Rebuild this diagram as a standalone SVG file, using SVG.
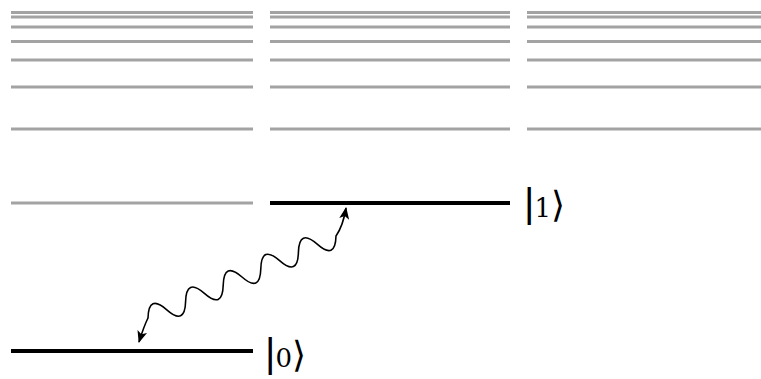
<svg xmlns="http://www.w3.org/2000/svg" width="761" height="379" viewBox="0 0 761 379">
<defs>
<style>
.lvl{stroke:#a3a3a3;stroke-width:3;fill:none}
.state{stroke:#000;stroke-width:4;fill:none}
.wave{stroke:#000;stroke-width:1.6;fill:none}
.lbl{font-family:"DejaVu Sans",sans-serif;fill:#000}
.br{font-family:"Liberation Sans",sans-serif;font-size:40px}
.dg{font-family:"DejaVu Serif",serif;font-size:26px}
.ang{font-family:"DejaVu Sans",sans-serif;font-size:36px;font-weight:200}
</style>
<marker id="ah" viewBox="0 0 12 10" refX="11" refY="5" markerWidth="13" markerHeight="10" markerUnits="userSpaceOnUse" orient="auto-start-reverse">
<path d="M0,0 L12,5 L0,10 L3,5 Z" fill="#000"/>
</marker>
</defs>
<rect width="761" height="379" fill="#fff"/>
<g id="levels-col1">
<path class="lvl" d="M11,12.5H253M11,17H253M11,27H253M11,41.5H253M11,60H253M11,87H253M11,129H253M11,203H253"/>
</g>
<g id="levels-col2">
<path class="lvl" d="M270,12.5H510M270,17H510M270,27H510M270,41.5H510M270,60H510M270,87H510M270,129H510"/>
</g>
<g id="levels-col3">
<path class="lvl" d="M527,12.5H761M527,17H761M527,27H761M527,41.5H761M527,60H761M527,87H761M527,129H761"/>
</g>
<g id="state1">
<path class="state" d="M270,203H510"/>
<text class="lbl" x="524" y="217"><tspan class="br">|</tspan><tspan class="dg">1</tspan><tspan class="ang">⟩</tspan></text>
</g>
<g id="state0">
<path class="state" d="M11,351H253"/>
<text class="lbl" x="265" y="367"><tspan class="br">|</tspan><tspan class="dg">0</tspan><tspan class="ang">⟩</tspan></text>
</g>
<g id="connectors">
<path class="wave" marker-start="url(#ah)" marker-end="url(#ah)" d="M139,342 Q144,326 148,318 Q148.6,293.7 166.8,309.8 T185.6,301.6 T204.4,293.4 T223.2,285.2 T242,277 T260.8,268.8 T279.6,260.6 T298.4,252.4 T317.2,244.2 T336,236 Q343,226 346,208"/>
</g>
</svg>
